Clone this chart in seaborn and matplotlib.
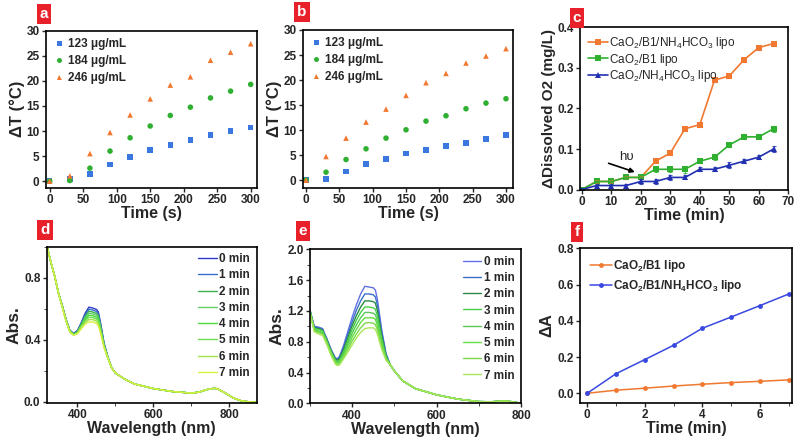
import matplotlib
matplotlib.use('Agg')
import matplotlib.pyplot as plt
import numpy as np
import pandas as pd
import seaborn as sns
from matplotlib.ticker import MultipleLocator

sns.set_style('ticks')
plt.rcParams['font.family'] = ['Liberation Sans', 'DejaVu Sans']
plt.rcParams['mathtext.default'] = 'regular'
plt.rcParams['axes.linewidth'] = 1.2
plt.rcParams['xtick.major.width'] = 1.0
plt.rcParams['ytick.major.width'] = 1.0
plt.rcParams['xtick.major.size'] = 3
plt.rcParams['ytick.major.size'] = 3
plt.rcParams['xtick.minor.size'] = 2
plt.rcParams['ytick.minor.size'] = 2
plt.rcParams['xtick.direction'] = 'out'
plt.rcParams['ytick.direction'] = 'out'

# ---------------- data ----------------
time_ab = [0, 30, 60, 90, 120, 150, 180, 210, 240, 270, 300]
conc_labels = ['123 μg/mL', '184 μg/mL', '246 μg/mL']
a_123 = [0, 0.4, 1.46, 3.3, 4.85, 6.2, 7.25, 8.25, 9.25, 10.0, 10.7]
a_184 = [0, 0.13, 2.6, 6.0, 8.65, 11.0, 13.1, 14.75, 16.6, 17.95, 19.3]
a_246 = [0, 1.06, 5.5, 9.7, 13.2, 16.4, 19.15, 20.8, 24.1, 25.7, 27.4]
b_123 = [0, 0.27, 1.73, 3.2, 4.2, 5.33, 6.07, 6.87, 7.47, 8.27, 9.07]
b_184 = [0, 1.6, 4.13, 6.27, 8.4, 10.07, 11.8, 12.87, 14.27, 15.4, 16.27]
b_246 = [0, 4.73, 8.4, 11.6, 14.2, 16.93, 19.47, 21.33, 23.4, 24.8, 26.27]

time_c = [0, 5, 10, 15, 20, 25, 30, 35, 40, 45, 50, 55, 60, 65]
c_labels = [r'CaO$_2$/B1/NH$_4$HCO$_3$ lipo', r'CaO$_2$/B1 lipo', r'CaO$_2$/NH$_4$HCO$_3$ lipo']
c_b1_nh4 = [0, 0.02, 0.02, 0.03, 0.03, 0.07, 0.09, 0.15, 0.16, 0.27, 0.28, 0.32, 0.35, 0.36]
c_b1 = [0, 0.02, 0.02, 0.03, 0.03, 0.05, 0.05, 0.05, 0.07, 0.08, 0.11, 0.13, 0.13, 0.15]
c_nh4 = [0, 0.01, 0.01, 0.01, 0.02, 0.02, 0.03, 0.03, 0.05, 0.05, 0.06, 0.07, 0.08, 0.10]
c_b1_nh4_err = [0, 0.004, 0.004, 0.004, 0.004, 0.005, 0.005, 0.005, 0.005, 0.005, 0.005, 0.005, 0.005, 0.005]
c_b1_err = [0, 0.006, 0.007, 0.005, 0.005, 0.007, 0.006, 0.008, 0.005, 0.006, 0.006, 0.006, 0.006, 0.007]
c_nh4_err = [0, 0.005, 0.005, 0.005, 0.005, 0.006, 0.006, 0.005, 0.005, 0.005, 0.007, 0.005, 0.005, 0.007]

min_labels = ['0 min', '1 min', '2 min', '3 min', '4 min', '5 min', '6 min', '7 min']

wl_d_head = [320, 330, 340, 350, 360, 370, 380, 390, 400, 410, 420, 430, 440, 450, 455, 460, 470, 480]
wl_d_tail = [490, 500, 525, 550, 600, 650, 700, 720, 740, 760, 770, 790, 810, 830, 850, 872]
d_tail = [0.22, 0.185, 0.145, 0.115, 0.085, 0.066, 0.056, 0.062, 0.078, 0.087, 0.082, 0.055, 0.025, 0.007, 0.0, -0.004]
d_heads = [
    [1.00, 0.90, 0.81, 0.70, 0.62, 0.53, 0.46, 0.44, 0.46, 0.51, 0.57, 0.610, 0.605, 0.595, 0.580, 0.52, 0.38, 0.29],
    [1.00, 0.90, 0.81, 0.70, 0.62, 0.53, 0.46, 0.44, 0.455, 0.505, 0.56, 0.597, 0.592, 0.582, 0.568, 0.51, 0.375, 0.288],
    [1.00, 0.90, 0.81, 0.70, 0.62, 0.53, 0.46, 0.435, 0.45, 0.50, 0.55, 0.584, 0.579, 0.569, 0.556, 0.50, 0.37, 0.286],
    [1.00, 0.90, 0.81, 0.70, 0.615, 0.525, 0.455, 0.435, 0.45, 0.495, 0.54, 0.571, 0.567, 0.557, 0.544, 0.49, 0.365, 0.285],
    [1.00, 0.90, 0.81, 0.70, 0.615, 0.525, 0.455, 0.435, 0.445, 0.49, 0.53, 0.558, 0.555, 0.545, 0.532, 0.48, 0.36, 0.284],
    [1.00, 0.90, 0.81, 0.70, 0.615, 0.52, 0.45, 0.43, 0.445, 0.485, 0.52, 0.545, 0.543, 0.533, 0.520, 0.47, 0.357, 0.282],
    [1.00, 0.90, 0.81, 0.70, 0.61, 0.52, 0.45, 0.43, 0.44, 0.48, 0.51, 0.530, 0.530, 0.520, 0.505, 0.46, 0.353, 0.281],
    [1.00, 0.90, 0.81, 0.70, 0.61, 0.52, 0.45, 0.43, 0.44, 0.47, 0.50, 0.515, 0.515, 0.505, 0.490, 0.45, 0.35, 0.28],
]

wl_e_head = [300, 310, 320, 330, 335, 340, 350, 360, 365, 370, 380, 390, 400, 410, 420, 430, 440, 450, 455, 460, 470, 480]
wl_e_tail = [490, 500, 520, 550, 600, 650, 700, 730, 760, 780, 800]
e_tail = [0.50, 0.42, 0.29, 0.19, 0.11, 0.055, 0.022, 0.02, 0.03, 0.02, 0.0]
e_heads = [
    [1.21, 1.00, 0.99, 0.97, 0.90, 0.84, 0.70, 0.59, 0.58, 0.61, 0.76, 0.94, 1.12, 1.28, 1.42, 1.52, 1.51, 1.50, 1.47, 1.34, 0.95, 0.65],
    [1.21, 0.99, 0.98, 0.96, 0.89, 0.83, 0.69, 0.58, 0.57, 0.60, 0.73, 0.90, 1.06, 1.21, 1.33, 1.42, 1.42, 1.41, 1.38, 1.27, 0.92, 0.64],
    [1.20, 0.98, 0.97, 0.95, 0.88, 0.82, 0.68, 0.57, 0.56, 0.58, 0.70, 0.86, 1.01, 1.14, 1.25, 1.33, 1.33, 1.32, 1.30, 1.20, 0.88, 0.62],
    [1.20, 0.97, 0.96, 0.94, 0.87, 0.81, 0.67, 0.56, 0.54, 0.56, 0.67, 0.82, 0.96, 1.08, 1.18, 1.25, 1.25, 1.24, 1.22, 1.13, 0.84, 0.61],
    [1.19, 0.96, 0.94, 0.92, 0.86, 0.80, 0.66, 0.55, 0.53, 0.55, 0.65, 0.78, 0.91, 1.02, 1.11, 1.18, 1.18, 1.17, 1.15, 1.06, 0.80, 0.60],
    [1.19, 0.95, 0.93, 0.91, 0.85, 0.79, 0.65, 0.54, 0.52, 0.53, 0.63, 0.74, 0.86, 0.96, 1.05, 1.11, 1.11, 1.11, 1.09, 1.00, 0.77, 0.58],
    [1.18, 0.94, 0.92, 0.90, 0.84, 0.78, 0.64, 0.52, 0.50, 0.52, 0.60, 0.70, 0.81, 0.90, 0.98, 1.04, 1.05, 1.04, 1.02, 0.95, 0.73, 0.57],
    [1.18, 0.93, 0.90, 0.88, 0.82, 0.76, 0.62, 0.51, 0.49, 0.50, 0.58, 0.67, 0.76, 0.85, 0.92, 0.97, 0.98, 0.98, 0.96, 0.89, 0.70, 0.56],
]

time_f = [0, 1, 2, 3, 4, 5, 6, 7]
f_labels = [r'CaO$_2$/B1 lipo', r'CaO$_2$/B1/NH$_4$HCO$_3$ lipo']
f_b1 = [0, 0.017, 0.028, 0.04, 0.05, 0.059, 0.066, 0.074]
f_b1_nh4 = [0, 0.108, 0.186, 0.265, 0.359, 0.421, 0.484, 0.548]

# ---------------- styles ----------------
col_blue_sq = '#3a78e0'
col_green = '#30b030'
col_orange = '#f07830'
col_navy = '#2030b0'
pal_d = ['#2a3ac8', '#3a6ccc', '#38b050', '#62d062', '#48dc3a', '#6ee050', '#a2e244', '#d8f040']
pal_e = ['#6070e6', '#3a70c8', '#2a8a44', '#46d046', '#58c858', '#62e040', '#7ad848', '#a8e858']

W, H = 797, 441
fig = plt.figure(figsize=(W / 100, H / 100), dpi=100)

def box(l, t, r, b):
    return [l / W, 1 - b / H, (r - l) / W, (b - t) / H]

ax_a = fig.add_axes(box(45.7, 30.7, 256.7, 187.7))
ax_b = fig.add_axes(box(302.7, 30.0, 513.3, 187.7))
ax_c = fig.add_axes(box(580, 27.3, 788.3, 190))
ax_d = fig.add_axes(box(46.7, 246.7, 256.7, 402.7))
ax_e = fig.add_axes(box(310, 249.3, 521, 403.3))
ax_f = fig.add_axes(box(580, 248.3, 791.7, 402.7))

tick_fs = 8.5
lab_fs = 11.5

def style_ax(ax):
    for s in ax.spines.values():
        s.set_visible(True)
        s.set_color('black')
        s.set_linewidth(1.2)
    ax.tick_params(labelsize=tick_fs, pad=1.5)

def bold_ticks(ax):
    for lab in ax.get_xticklabels() + ax.get_yticklabels():
        lab.set_fontweight('bold')

# ---- panels a, b ----
def scatter_panel(ax, v1, v2, v3):
    df = pd.DataFrame({
        'Time': time_ab * 3,
        'dT': v1 + v2 + v3,
        'conc': [conc_labels[0]] * len(time_ab) + [conc_labels[1]] * len(time_ab) + [conc_labels[2]] * len(time_ab),
    })
    sns.scatterplot(data=df, x='Time', y='dT', hue='conc', style='conc',
                    markers=['s', 'o', '^'], palette=[col_blue_sq, col_green, col_orange],
                    s=16, edgecolor='none', ax=ax, legend=True)
    ax.set_xlabel('Time (s)', fontsize=lab_fs, fontweight='bold', labelpad=0)
    ax.set_ylabel('ΔT (°C)', fontsize=12, fontweight='bold', labelpad=1)
    ax.xaxis.set_major_locator(MultipleLocator(50))
    ax.yaxis.set_major_locator(MultipleLocator(5))
    leg = ax.legend(loc='upper left', frameon=False, fontsize=8.5, handletextpad=0.3,
                    handlelength=1.0, labelspacing=0.42, borderaxespad=0.3, borderpad=0.3,
                    markerscale=0.9, bbox_to_anchor=(0.0, 1.0))
    for t in leg.get_texts():
        t.set_fontweight('bold')
    style_ax(ax)

scatter_panel(ax_a, a_123, a_184, a_246)
ax_a.set_xlim(-6, 309)
ax_a.set_ylim(-1.3, 30)
scatter_panel(ax_b, b_123, b_184, b_246)
ax_b.set_xlim(-5, 311)
ax_b.set_ylim(-1.5, 30)
ax_a.set_yticks([0, 5, 10, 15, 20, 25, 30])
ax_b.set_yticks([0, 5, 10, 15, 20, 25, 30])

# ---- panel c ----
dfc = pd.DataFrame({
    'Time': time_c * 3,
    'O2': c_b1_nh4 + c_b1 + c_nh4,
    'grp': [c_labels[0]] * len(time_c) + [c_labels[1]] * len(time_c) + [c_labels[2]] * len(time_c),
})
sns.lineplot(data=dfc, x='Time', y='O2', hue='grp', style='grp',
             markers=['s', 's', '^'], dashes=False,
             palette=[col_orange, col_green, col_navy], markersize=4,
             markeredgewidth=0, linewidth=1.2, ax=ax_c)
for vals, errs, col in ((c_b1_nh4, c_b1_nh4_err, col_orange), (c_b1, c_b1_err, col_green), (c_nh4, c_nh4_err, col_navy)):
    ax_c.errorbar(time_c, vals, yerr=errs, fmt='none', ecolor=col, elinewidth=0.8, capsize=1.5, capthick=0.8, alpha=0.8)
ax_c.set_xlim(-0.6, 70)
ax_c.set_ylim(-0.001, 0.4)
ax_c.xaxis.set_major_locator(MultipleLocator(10))
ax_c.yaxis.set_major_locator(MultipleLocator(0.1))
ax_c.set_xlabel('Time (min)', fontsize=lab_fs, fontweight='bold', labelpad=0)
ax_c.set_ylabel('ΔDissolved O2 (mg/L)', fontsize=11, fontweight='bold', labelpad=1)
ax_c.legend(loc='upper left', frameon=False, fontsize=8.5, handlelength=1.7,
            handletextpad=0.1, labelspacing=0.05, borderaxespad=0.25,
            bbox_to_anchor=(0.0, 1.0))
ax_c.annotate('', xy=(18.9, 0.041), xytext=(8.2, 0.067),
              arrowprops=dict(arrowstyle='-|>', lw=1.2, color='black', mutation_scale=7))
ax_c.text(15.0, 0.081, 'hυ', fontsize=9.5, ha='center', va='center')
style_ax(ax_c)

# ---- panels d, e ----
def spectra_panel(ax, wl_head, wl_tail, heads, tail, pal):
    rows_wl, rows_a, rows_t = [], [], []
    for lab, head in zip(min_labels, heads):
        rows_wl += wl_head + wl_tail
        rows_a += head + tail
        rows_t += [lab] * (len(wl_head) + len(wl_tail))
    df = pd.DataFrame({'wl': rows_wl, 'A': rows_a, 't': rows_t})
    sns.lineplot(data=df, x='wl', y='A', hue='t', palette=pal, linewidth=1.0,
                 sort=False, ax=ax)
    ax.set_xlabel('Wavelength (nm)', fontsize=lab_fs, fontweight='bold', labelpad=0)
    ax.set_ylabel('Abs.', fontsize=12.5, fontweight='bold', labelpad=2)
    leg = ax.legend(loc='upper right', frameon=False, fontsize=8.5, handlelength=1.6,
                    handletextpad=0.2, labelspacing=0.36, borderaxespad=0.15)
    for t in leg.get_texts():
        t.set_fontweight('bold')
    for h in leg.get_lines():
        h.set_linewidth(1.0)
    ax.xaxis.set_major_locator(MultipleLocator(200))
    ax.xaxis.set_minor_locator(MultipleLocator(100))
    style_ax(ax)

spectra_panel(ax_d, wl_d_head, wl_d_tail, d_heads, d_tail, pal_d)
ax_d.set_xlim(319, 872)
ax_d.set_ylim(-0.006, 1.0)
ax_d.yaxis.set_major_locator(MultipleLocator(0.4))
ax_d.yaxis.set_minor_locator(MultipleLocator(0.2))

spectra_panel(ax_e, wl_e_head, wl_e_tail, e_heads, e_tail, pal_e)
ax_e.set_xlim(300, 800)
ax_e.set_ylim(0, 2.0)
ax_e.yaxis.set_major_locator(MultipleLocator(0.4))
ax_e.yaxis.set_minor_locator(MultipleLocator(0.2))
for ax in (ax_d, ax_e):
    ax.yaxis.set_major_formatter(matplotlib.ticker.FormatStrFormatter('%.1f'))

# ---- panel f ----
dff = pd.DataFrame({
    'Time': time_f * 2,
    'dA': f_b1 + f_b1_nh4,
    'grp': [f_labels[0]] * len(time_f) + [f_labels[1]] * len(time_f),
})
sns.lineplot(data=dff, x='Time', y='dA', hue='grp', palette=[col_orange, '#3848e0'],
             marker='o', markersize=3.5, markeredgewidth=0, linewidth=1.1, ax=ax_f)
ax_f.set_xlim(-0.25, 7.1)
ax_f.set_ylim(-0.052, 0.8)
ax_f.xaxis.set_major_locator(MultipleLocator(2))
ax_f.xaxis.set_minor_locator(MultipleLocator(1))
ax_f.yaxis.set_major_locator(MultipleLocator(0.2))
ax_f.yaxis.set_major_formatter(matplotlib.ticker.FormatStrFormatter('%.1f'))
ax_f.set_xlabel('Time (min)', fontsize=lab_fs, fontweight='bold', labelpad=0)
ax_f.set_ylabel('ΔA', fontsize=12, fontweight='bold', labelpad=2)
leg = ax_f.legend(loc='upper left', frameon=False, fontsize=8.5, handlelength=1.8,
                  handletextpad=0.1, labelspacing=0.3, borderaxespad=0.3,
                  bbox_to_anchor=(0.01, 0.99))
for t in leg.get_texts():
    t.set_fontweight('bold')
style_ax(ax_f)

for ax in (ax_a, ax_b, ax_c, ax_d, ax_e, ax_f):
    bold_ticks(ax)

# ---- panel letters ----
for letter, cx, cy in (('a', 44, 14), ('b', 302, 12), ('c', 577, 18),
                       ('d', 45, 230), ('e', 303, 231), ('f', 577, 232)):
    fig.text(cx / W, 1 - cy / H, letter, color='white', fontsize=11, fontweight='bold',
             ha='center', va='center',
             bbox=dict(boxstyle='square,pad=0.2', fc='#e8202a', ec='none'))

fig.savefig('out.png', dpi=100)
